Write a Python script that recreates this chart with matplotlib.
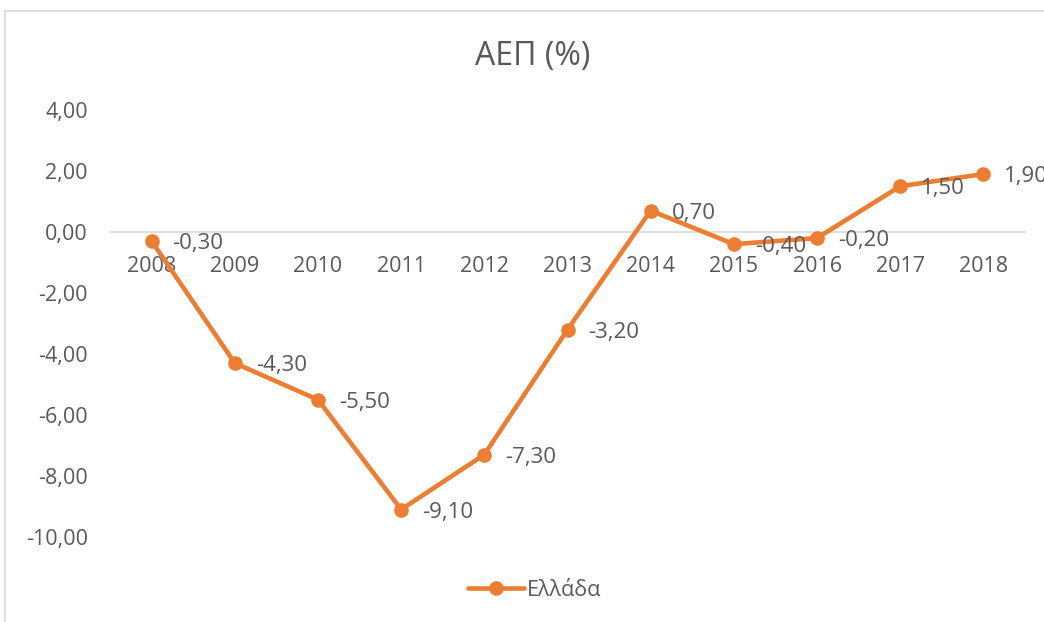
import matplotlib.pyplot as plt
from matplotlib.patches import Rectangle

# data
years = ['2008', '2009', '2010', '2011', '2012', '2013', '2014', '2015', '2016', '2017', '2018']
gdp_growth = [-0.3, -4.3, -5.5, -9.1, -7.3, -3.2, 0.7, -0.4, -0.2, 1.5, 1.9]
y_ticks = [4, 2, 0, -2, -4, -6, -8, -10]

orange = '#ED7D31'
text_color = '#595959'

plt.rcParams['font.family'] = ['Open Sans', 'DejaVu Sans']

fig = plt.figure(figsize=(10.44, 6.22), dpi=100)
ax = fig.add_axes([0.1054, 0.1367, 0.8764, 0.6865])

# outer chart border (cropped at right / bottom)
fig.patches.append(Rectangle((0.005, -0.1), 1.2, 1.1 - 11 / 622, transform=fig.transFigure,
                             fill=False, edgecolor='#D9D9D9', linewidth=1.2))

x = list(range(len(years)))
ax.plot(x, gdp_growth, color=orange, linewidth=3.3, marker='o', markersize=9.5,
        solid_capstyle='round', label='Ελλάδα', zorder=3)

# data labels to the right of each point
for xi, v in zip(x, gdp_growth):
    ax.annotate(f'{v:.2f}'.replace('.', ','), (xi, v), xytext=(15, -2),
                textcoords='offset points', ha='left', va='center',
                fontsize=16, color=text_color, zorder=4, annotation_clip=False)

ax.set_xlim(-0.5, len(years) - 0.5)
ax.set_ylim(-10, 4)
ax.set_yticks(y_ticks)
ax.set_yticklabels([f'{t:.2f}'.replace('.', ',') for t in y_ticks])
ax.set_xticks(x)
ax.set_xticklabels(years)

for side in ['top', 'right', 'left']:
    ax.spines[side].set_visible(False)
ax.spines['bottom'].set_position(('data', 0))
ax.spines['bottom'].set_color('#D9D9D9')
ax.spines['bottom'].set_linewidth(1.2)
ax.tick_params(axis='both', length=0, labelsize=15.5, labelcolor=text_color)
ax.tick_params(axis='y', pad=16)
ax.tick_params(axis='x', pad=17)

fig.text(0.51, 1 - 57 / 622, 'ΑΕΠ (%)', ha='center', va='center',
         fontsize=23, color=text_color)

fig.legend(handles=ax.get_lines(), loc='center', bbox_to_anchor=(0.512, 1 - 590 / 622),
           frameon=False, fontsize=15.5, labelcolor=text_color, handlelength=2.6,
           handletextpad=0.1)

fig.savefig('out.png', dpi=100)
